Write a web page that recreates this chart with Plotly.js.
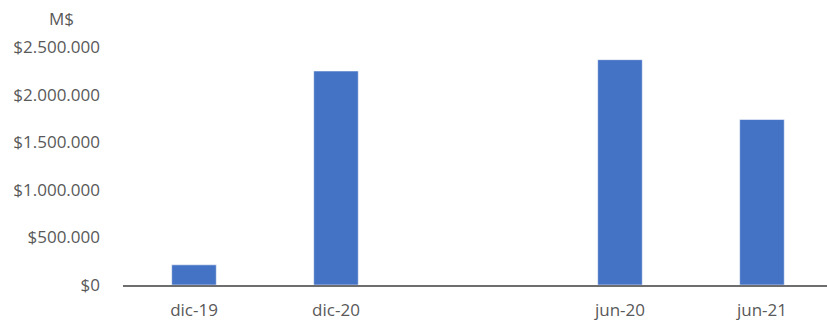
<!DOCTYPE html>
<html>
<head>
<meta charset="utf-8">
<script src="https://cdn.plot.ly/plotly-3.0.1.min.js"></script>
<style>html,body{margin:0;padding:0;background:#fff;}#chart{width:827px;height:322px;}</style>
</head>
<body>
<div id="chart"></div>
<script>
const categories = ['dic-19', 'dic-20', ' ', 'jun-20', 'jun-21'];
const barCategories = ['dic-19', 'dic-20', 'jun-20', 'jun-21'];
const values = [212000, 2248000, 2367000, 1738000];
const yTickVals = [0, 500000, 1000000, 1500000, 2000000, 2500000];
const yTickText = ['$0', '$500.000', '$1.000.000', '$1.500.000', '$2.000.000', '$2.500.000'];
const unitLabel = 'M$';

const font = {family: 'Open Sans, Noto Sans, sans-serif', size: 17, color: '#595959'};

Plotly.newPlot('chart', [{
  type: 'bar',
  x: barCategories,
  y: values,
  marker: {color: '#4472C4', line: {color: 'rgba(255,255,255,0.55)', width: 1}},
  hoverinfo: 'x+y'
}], {
  width: 827, height: 322,
  margin: {l: 123, r: 0, t: 47, b: 37},
  paper_bgcolor: '#fff', plot_bgcolor: '#fff',
  showlegend: false,
  bargap: 0.686,
  font: font,
  xaxis: {
    type: 'category',
    categoryorder: 'array',
    categoryarray: categories,
    range: [-0.5, 4.458],
    showgrid: false,
    showline: true, linecolor: '#6e6e6e', linewidth: 2,
    ticks: '', ticklabelstandoff: 9,
    tickfont: font, zeroline: false
  },
  yaxis: {
    range: [0, 2500000],
    tickvals: yTickVals, ticktext: yTickText,
    showgrid: false, zeroline: false, showline: false,
    ticks: '', ticklabelstandoff: 22,
    tickfont: font
  },
  annotations: [{
    text: unitLabel, xref: 'paper', yref: 'paper',
    x: -0.087, y: 1.0, xanchor: 'center', yanchor: 'bottom', yshift: 15,
    showarrow: false, font: font
  }]
}, {staticPlot: true});
</script>
</body>
</html>
